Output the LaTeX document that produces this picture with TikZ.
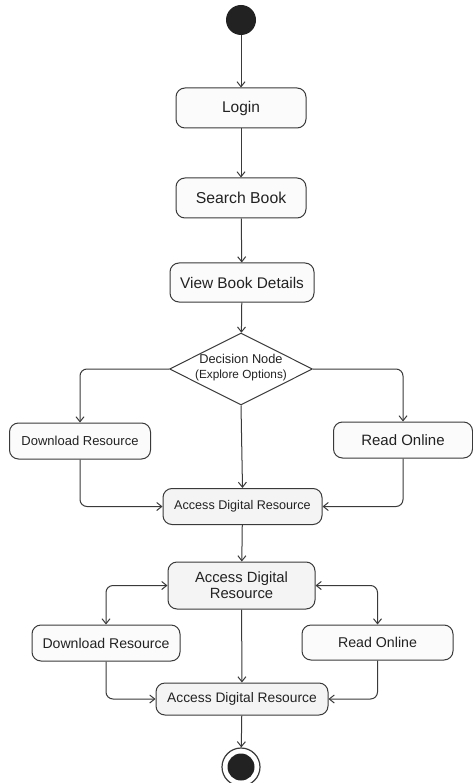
\documentclass[tikz,border=0pt]{standalone}
\usepackage{fontspec}
\setmainfont{Liberation Sans}
\usetikzlibrary{shapes.geometric,arrows.meta}
\definecolor{ln}{HTML}{3A3A3A}
\definecolor{bx}{HTML}{FBFBFB}
\definecolor{bx2}{HTML}{F4F4F4}
\definecolor{tx}{HTML}{222222}
\begin{document}
\begin{tikzpicture}[x=1pt,y=-1pt,
  act/.style={draw=ln,line width=1pt,fill=bx,rounded corners=9pt,inner sep=0pt,text=tx,align=center},
  act2/.style={act,fill=bx2},
  flow/.style={draw=ln,line width=1pt,-{Straight Barb[length=5pt,width=8pt]},rounded corners=7pt},
  bflow/.style={flow,{Straight Barb[length=5pt,width=8pt]}-{Straight Barb[length=5pt,width=8pt]}}]
\useasboundingbox (0,0) rectangle (472,783);
\fill[white] (0,0) rectangle (472,783);
% start
\node[circle,fill=tx,minimum size=30pt,inner sep=0pt] (start) at (241,20) {};
\node[act,minimum width=130pt,minimum height=40pt,font=\fontsize{15.5}{17}\selectfont] (login) at (241,108) {Login};
\node[act,minimum width=130pt,minimum height=40pt,font=\fontsize{15.8}{17}\selectfont] (search) at (241,198) {Search Book};
\node[act,minimum width=144pt,minimum height=39pt,font=\fontsize{15.4}{17}\selectfont] (view) at (242,282.5) {View Book Details};
\node[diamond,draw=ln,line width=1pt,fill=white,minimum width=143pt,minimum height=72pt,inner sep=0pt] (dec) at (241,369) {};
\node[align=center,text=tx,inner sep=0pt] (dectext) at (241,367.5) {{\fontsize{12.8}{15}\selectfont Decision Node}\\[3pt]{\fontsize{11.8}{13}\selectfont (Explore Options)}};
\node[act,minimum width=141pt,minimum height=36pt,font=\fontsize{13}{15}\selectfont] (dl1) at (80,441) {Download Resource};
\node[act,minimum width=139pt,minimum height=36pt,font=\fontsize{15}{17}\selectfont] (ro1) at (403,440) {Read Online};
\node[act2,minimum width=159pt,minimum height=36pt,font=\fontsize{12.6}{14}\selectfont] (adr1) at (242.5,506.5) {Access Digital Resource};
\node[act2,minimum width=147pt,minimum height=47pt,font=\fontsize{14.8}{16}\selectfont] (adr2) at (241.5,585.5) {Access Digital\\Resource};
\node[act,minimum width=148pt,minimum height=36pt,font=\fontsize{14.1}{16}\selectfont] (dl2) at (106,643) {Download Resource};
\node[act,minimum width=151pt,minimum height=35pt,font=\fontsize{14.2}{16}\selectfont] (ro2) at (377.5,642.5) {Read Online};
\node[act2,minimum width=172pt,minimum height=32pt,font=\fontsize{13.8}{15}\selectfont] (adr3) at (242,699) {Access Digital Resource};
\node[circle,draw=ln,line width=1.2pt,fill=white,minimum size=38pt,inner sep=0pt] (end) at (241,767) {};
\node[circle,fill=tx,minimum size=27pt,inner sep=0pt] (endin) at (241,767) {};
% connectors
\draw[flow] (start) -- (login);
\draw[flow] (login) -- (search);
\draw[flow] (search) -- (view);
\draw[flow] (view) -- (dec);
\draw[flow] (dec.west) -| (dl1.north);
\draw[flow] (dec.east) -| (ro1.north);
\draw[flow] (dec.south) -- (adr1.north);
\draw[flow] (dl1.south) |- (adr1.west);
\draw[flow] (ro1.south) |- (adr1.east);
\draw[flow] (adr1) -- (adr2);
\draw[bflow] (adr2.west) -| (dl2.north);
\draw[bflow] (adr2.east) -| (ro2.north);
\draw[flow] (adr2) -- (adr3);
\draw[flow] (dl2.south) |- (adr3.west);
\draw[flow] (ro2.south) |- (adr3.east);
\draw[flow] (adr3) -- (end);
\end{tikzpicture}
\end{document}
